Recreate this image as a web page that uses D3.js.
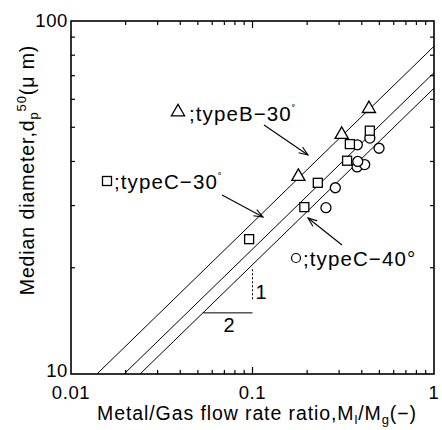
<!DOCTYPE html>
<html>
<head>
<meta charset="utf-8">
<script src="https://cdn.jsdelivr.net/npm/d3@7"></script>
<style>
    body { margin: 0; background: #fff; }
    svg { display: block; }
    text { font-family: "Liberation Sans", Arial, sans-serif; fill: #000; }
</style>
</head>
<body>
<div id="chart"></div>
<script>
// data
const typeB30 = [[0.179, 36.5], [0.31, 48.0], [0.438, 56.8]];
const typeC30 = [[0.0958, 24.1], [0.193, 29.7], [0.229, 34.8], [0.332, 40.2], [0.344, 44.8], [0.443, 48.9]];
const typeC40 = [[0.254, 29.6], [0.286, 33.7], [0.377, 38.6], [0.415, 39.2], [0.380, 40.0], [0.498, 43.6], [0.378, 44.6], [0.443, 46.6]];

// fitted lines, slope 1/2 on log-log
const fitLines = [
    [[0.0139, 10], [1, 84.8]],
    [[0.0196, 10], [1, 71.4]],
    [[0.0240, 10], [1, 64.5]]
];

// slope triangle  (2 : 1)
const slopeRun = [[0.0533, 14.9], [0.1, 14.9]];
const slopeRise = [[0.1, 19.8], [0.1, 16.2]];

const xMinor = [0.02, 0.03, 0.04, 0.05, 0.06, 0.07, 0.08, 0.09, 0.2, 0.3, 0.4, 0.5, 0.6, 0.7, 0.8, 0.9];
const xMajor = [0.01, 0.1, 1];
const xLabels = ["0.01", "0.1", "1"];
const yMinor = [20, 30, 40, 50, 60, 70, 80, 90];
const yLabels = ["10", "100"];

const W = 442, H = 430;
const plot = {left: 71, right: 434, top: 21, bottom: 374};

const svg = d3.select("#chart").append("svg")
    .attr("width", W)
    .attr("height", H);

const x = d3.scaleLog().domain([0.01, 1]).range([plot.left, plot.right]);
const y = d3.scaleLog().domain([10, 100]).range([plot.bottom, plot.top]);

svg.append("defs").append("marker")
    .attr("id", "arrow")
    .attr("viewBox", "-10 -5 12 10")
    .attr("refX", 0).attr("refY", 0)
    .attr("markerWidth", 12).attr("markerHeight", 10)
    .attr("markerUnits", "userSpaceOnUse")
    .attr("orient", "auto")
    .append("path")
    .attr("d", "M-9,-3.5L0,0L-9,3.5")
    .attr("fill", "none")
    .attr("stroke", "#000")
    .attr("stroke-width", 1.1);

svg.append("clipPath").attr("id", "clip")
    .append("rect")
    .attr("x", plot.left).attr("y", plot.top)
    .attr("width", plot.right - plot.left).attr("height", plot.bottom - plot.top);

const line = d3.line().x(d => x(d[0])).y(d => y(d[1]));

// fit lines
svg.append("g").attr("clip-path", "url(#clip)")
    .selectAll("path")
    .data(fitLines)
    .enter().append("path")
    .attr("d", line)
    .attr("fill", "none")
    .attr("stroke", "#000")
    .attr("stroke-width", 1);

// slope triangle
svg.append("path").attr("d", line(slopeRun))
    .attr("stroke", "#000").attr("stroke-width", 1).attr("fill", "none");
svg.append("path").attr("d", line(slopeRise))
    .attr("stroke", "#000").attr("stroke-width", 1).attr("stroke-dasharray", "2,2").attr("fill", "none");
svg.append("text").attr("x", 261).attr("y", 299).attr("text-anchor", "middle")
    .style("font-size", "20px").text("1");
svg.append("text").attr("x", 229).attr("y", 332).attr("text-anchor", "middle")
    .style("font-size", "20px").text("2");

// axes frame with inward ticks
const axes = svg.append("g").attr("stroke", "#000").attr("fill", "none");
axes.append("rect")
    .attr("x", plot.left).attr("y", plot.top)
    .attr("width", plot.right - plot.left).attr("height", plot.bottom - plot.top)
    .attr("stroke-width", 1.6);

function xTicks(vals, len) {
    vals.forEach(v => {
        axes.append("line").attr("x1", x(v)).attr("x2", x(v))
            .attr("y1", plot.bottom).attr("y2", plot.bottom - len).attr("stroke-width", 1.2);
        axes.append("line").attr("x1", x(v)).attr("x2", x(v))
            .attr("y1", plot.top).attr("y2", plot.top + len).attr("stroke-width", 1.2);
    });
}
xTicks(xMinor, 4);
xTicks([0.1], 7);

yMinor.forEach(v => {
    axes.append("line").attr("x1", plot.left).attr("x2", plot.left + 4)
        .attr("y1", y(v)).attr("y2", y(v)).attr("stroke-width", 1.2);
    axes.append("line").attr("x1", plot.right).attr("x2", plot.right - 4)
        .attr("y1", y(v)).attr("y2", y(v)).attr("stroke-width", 1.2);
});

// tick labels
xMajor.forEach((v, i) => {
    svg.append("text").attr("x", x(v)).attr("y", 399)
        .attr("text-anchor", "middle")
        .style("font-size", "18.5px").style("letter-spacing", "0.6px")
        .text(xLabels[i]);
});
[10, 100].forEach((v, i) => {
    svg.append("text").attr("x", plot.left - 3).attr("y", y(v) + (i === 0 ? 3 : 6))
        .attr("text-anchor", "end")
        .style("font-size", "18.5px").style("letter-spacing", "0.6px")
        .text(yLabels[i]);
});

// axis titles
const xt = svg.append("text").attr("x", 257).attr("y", 420)
    .attr("text-anchor", "middle")
    .style("font-size", "19.5px").style("letter-spacing", "0.9px");
xt.append("tspan").text("Metal/Gas flow rate ratio,M");
xt.append("tspan").attr("dy", 4).style("font-size", "13px").text("l");
xt.append("tspan").attr("dy", -4).text("/M");
xt.append("tspan").attr("dy", 4).style("font-size", "13px").text("g");
xt.append("tspan").attr("dy", -4).text("(\u2212)");

const yt = svg.append("text")
    .attr("transform", "translate(34,170) rotate(-90)")
    .attr("text-anchor", "middle")
    .style("font-size", "19.5px").style("letter-spacing", "0.9px");
yt.append("tspan").text("Median diameter,d");
yt.append("tspan").attr("dy", 4).style("font-size", "13px").text("p");
yt.append("tspan").attr("dy", -12).style("font-size", "13px").text("50");
yt.append("tspan").attr("dy", 8).text("(\u03bc m)");

// markers
const tri = d3.symbol().type(d3.symbolTriangle).size(75);
function drawTri(px, py) {
    svg.append("path").attr("d", tri())
        .attr("transform", `translate(${px},${py + 1})`)
        .attr("fill", "#fff").attr("stroke", "#000").attr("stroke-width", 1.3);
}
function drawSq(px, py) {
    svg.append("rect").attr("x", px - 4.5).attr("y", py - 4.5)
        .attr("width", 9).attr("height", 9)
        .attr("fill", "#fff").attr("stroke", "#000").attr("stroke-width", 1.3);
}
function drawCirc(px, py) {
    svg.append("circle").attr("cx", px).attr("cy", py).attr("r", 5)
        .attr("fill", "#fff").attr("stroke", "#000").attr("stroke-width", 1.3);
}

typeC40.forEach(d => drawCirc(x(d[0]), y(d[1])));
typeC30.forEach(d => drawSq(x(d[0]), y(d[1])));
typeB30.forEach(d => drawTri(x(d[0]), y(d[1])));

// annotations
function annot(px, py, parts) {
    const t = svg.append("text").attr("x", px).attr("y", py)
        .style("font-size", "20.5px").style("letter-spacing", "1.1px");
    parts.forEach(p => {
        const s = t.append("tspan").text(p.t);
        if (p.sup) s.attr("dy", -8).style("font-size", "11px");
    });
}

drawTri(178, 111);
annot(189, 121, [{t: ";typeB\u221230"}, {t: "\u02da", sup: true}]);
svg.append("line").attr("x1", 264).attr("y1", 125).attr("x2", 308).attr("y2", 155)
    .attr("stroke", "#000").attr("stroke-width", 1.1).attr("marker-end", "url(#arrow)");

drawSq(107, 181);
annot(114, 189, [{t: ";typeC\u221230"}, {t: "\u02da", sup: true}]);
svg.append("line").attr("x1", 222).attr("y1", 195).attr("x2", 263).attr("y2", 217)
    .attr("stroke", "#000").attr("stroke-width", 1.1).attr("marker-end", "url(#arrow)");

svg.append("circle").attr("cx", 296).attr("cy", 258).attr("r", 4.5)
    .attr("fill", "#fff").attr("stroke", "#000").attr("stroke-width", 1.2);
annot(303, 266, [{t: ";typeC\u221240\u00b0"}]);
svg.append("line").attr("x1", 342).attr("y1", 245).attr("x2", 308).attr("y2", 218)
    .attr("stroke", "#000").attr("stroke-width", 1.1).attr("marker-end", "url(#arrow)");
</script>
</body>
</html>
